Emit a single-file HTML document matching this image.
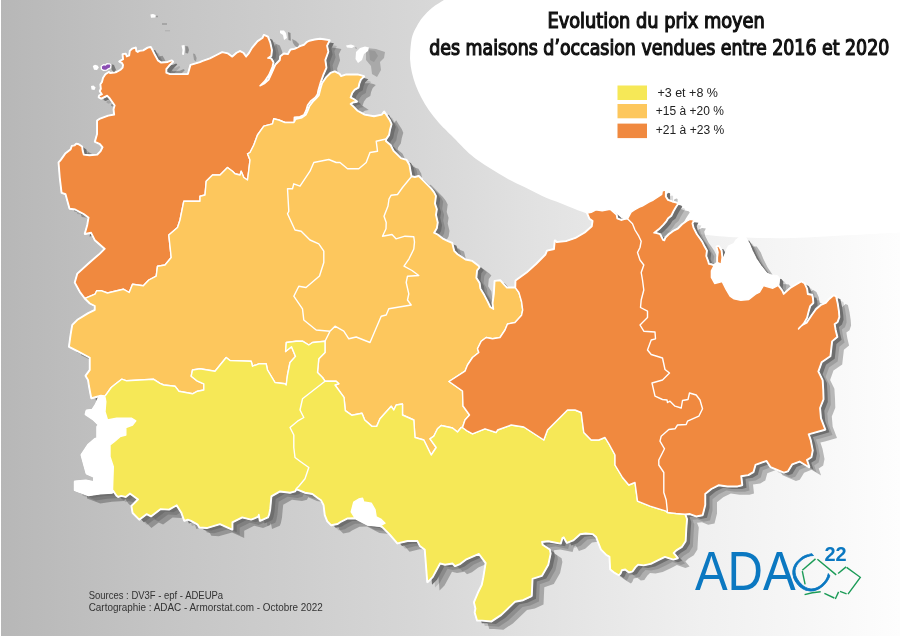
<!DOCTYPE html>
<html><head><meta charset="utf-8"><title>Evolution du prix moyen des maisons d'occasion</title>
<style>
html,body{margin:0;padding:0;width:900px;height:636px;overflow:hidden;background:#fff}
#wrap{position:relative;width:900px;height:636px;overflow:hidden}
svg{position:absolute;left:0;top:0}
.t{position:absolute;white-space:nowrap;font-family:"Liberation Sans",Arial,sans-serif}
</style></head><body><div id="wrap">
<svg width="900" height="636" viewBox="0 0 900 636">
<defs>
<linearGradient id="bg" x1="0" y1="0" x2="1" y2="0">
<stop offset="0" stop-color="#b7b7b7"/><stop offset="0.17" stop-color="#c4c4c4"/><stop offset="0.47" stop-color="#d7d7d7"/><stop offset="0.6" stop-color="#e2e2e2"/><stop offset="0.78" stop-color="#f0f0f0"/><stop offset="1" stop-color="#fdfdfd"/>
</linearGradient>
<g id="sil"><path d="M85.0 298.3 L80.0 291.7 L75.0 282.5 L77.5 273.8 L90.0 262.5 L100.0 253.8 L105.0 248.8 L95.0 240.0 L91.2 232.5 L85.0 233.8 L87.5 225.0 L88.8 217.5 L83.8 213.8 L75.2 209.3 L69.7 208.5 L65.7 194.0 L61.8 192.7 L60.0 177.5 L58.8 162.5 L61.0 160.0 L65.4 153.8 L70.9 149.4 L72.0 146.1 L74.8 145.6 L76.4 143.9 L78.6 144.5 L81.9 146.7 L82.5 151.1 L83.6 154.9 L89.6 155.5 L97.3 154.9 L100.6 151.6 L102.8 147.2 L100.1 143.9 L95.1 141.7 L97.3 134.0 L97.3 120.8 L99.5 119.2 L108.3 115.9 L114.4 114.8 L113.8 109.3 L114.9 105.4 L110.0 98.3 L107.2 95.5 L101.2 98.3 L98.9 97.2 L99.4 95.6 L102.2 94.4 L100.0 91.1 L101.1 88.9 L100.6 84.4 L102.2 82.2 L103.3 77.8 L105.6 74.4 L108.9 72.2 L110.0 73.3 L114.4 72.8 L116.7 72.2 L120.6 70.0 L122.8 67.8 L123.3 65.0 L122.2 62.8 L119.5 61.5 L123.3 59.4 L122.8 54.4 L125.6 53.9 L126.7 56.7 L129.4 55.6 L130.0 51.1 L132.2 48.9 L135.6 47.8 L136.1 51.1 L137.8 52.2 L139.4 51.1 L143.3 50.6 L147.8 47.8 L150.6 47.2 L152.2 50.0 L154.4 54.4 L157.8 60.6 L161.1 62.8 L167.8 62.2 L171.7 60.6 L172.8 61.7 L168.9 65.6 L166.1 68.9 L166.1 72.8 L170.0 74.4 L178.9 74.4 L187.8 74.4 L188.3 73.6 L190.6 65.2 L200.0 62.4 L202.2 61.3 L210.0 58.6 L216.7 55.2 L222.2 52.4 L227.8 53.6 L232.2 56.9 L236.7 53.0 L240.0 51.3 L243.3 53.0 L246.1 56.9 L248.9 53.6 L252.2 48.0 L257.8 41.3 L262.8 38.0 L263.9 35.2 L267.8 36.9 L270.0 42.4 L271.7 50.2 L271.1 55.8 L267.8 58.0 L271.1 58.6 L273.3 62.4 L272.2 66.9 L268.9 74.7 L264.4 81.3 L260.0 85.8 L264.4 83.6 L268.9 79.7 L272.2 72.4 L275.6 64.7 L280.0 60.2 L280.5 56.4 L284.0 53.7 L288.0 54.4 L290.7 49.7 L294.7 49.1 L300.0 46.4 L304.1 45.0 L306.7 42.4 L309.4 41.0 L314.7 39.7 L320.1 39.0 L325.4 39.7 L329.4 40.4 L326.8 45.7 L328.1 51.7 L325.1 60.0 L326.2 67.7 L322.9 75.4 L320.2 83.1 L318.0 90.8 L317.4 94.1 L315.2 97.4 L310.8 100.7 L307.5 105.1 L305.9 110.6 L303.7 115.0 L299.8 116.7 L294.3 117.2 L294.0 122.5 L285.0 122.5 L278.8 120.0 L273.8 118.8 L272.5 123.8 L263.8 126.2 L257.5 135.0 L253.8 145.0 L250.0 152.5 L247.5 153.8 L250.0 160.0 L248.8 170.0 L247.5 180.0 L243.8 177.5 L241.2 171.2 L240.0 175.0 L235.0 173.8 L232.5 171.2 L227.5 167.5 L220.0 175.0 L212.5 175.0 L206.2 181.2 L205.0 195.0 L200.0 196.2 L200.0 201.2 L183.8 201.2 L180.0 220.0 L177.5 227.5 L168.8 235.0 L171.2 257.5 L165.0 265.0 L157.5 266.2 L156.2 276.2 L148.8 280.0 L143.3 285.8 L132.5 284.2 L129.2 292.5 L123.3 289.2 L107.5 293.0 L101.7 290.8 L96.7 290.8 L95.0 294.2 L85.0 298.3Z"/><path d="M85.0 298.3 L90.0 303.3 L95.0 305.8 L95.0 310.0 L88.3 313.3 L77.5 320.0 L72.5 325.0 L70.8 335.0 L69.2 346.7 L77.5 350.8 L90.0 357.5 L90.0 370.0 L85.8 375.8 L88.3 380.0 L89.2 386.0 L90.5 393.0 L91.5 398.0 L97.0 396.5 L101.0 395.5 L105.0 396.2 L111.2 387.5 L115.5 384.0 L121.7 379.2 L126.7 380.8 L153.3 379.2 L160.0 383.3 L163.8 385.0 L175.0 386.2 L178.8 391.2 L192.5 393.8 L197.5 391.2 L203.8 390.0 L203.8 383.8 L197.5 381.2 L191.2 376.2 L192.5 370.0 L200.0 368.8 L215.0 371.2 L226.2 357.5 L230.0 360.5 L251.2 361.2 L252.5 366.2 L258.8 363.8 L266.2 363.8 L267.5 370.0 L275.0 382.5 L285.0 383.8 L286.2 385.0 L287.5 375.0 L290.0 362.5 L295.5 356.4 L291.5 346.8 L285.6 351.5 L286.3 342.5 L296.2 341.2 L302.5 341.2 L308.8 345.0 L312.5 342.5 L325.0 341.2 L325.0 352.5 L318.8 358.8 L317.5 372.5 L322.5 377.5 L325.0 381.2 L336.2 381.2 L338.8 383.8 L335.0 385.0 L344.0 397.3 L345.3 410.7 L352.0 415.3 L362.0 413.3 L364.7 420.0 L372.0 426.4 L376.7 426.4 L380.0 418.7 L391.2 406.2 L393.8 410.0 L396.2 405.0 L402.5 404.0 L402.5 415.0 L413.8 420.0 L415.0 437.5 L423.8 440.0 L431.2 455.0 L436.2 447.5 L430.0 438.8 L433.8 436.2 L437.5 428.8 L441.2 425.5 L452.5 428.0 L457.5 432.0 L461.2 427.5 L462.5 427.5 L465.0 420.0 L469.5 415.0 L463.0 406.0 L462.5 391.0 L449.0 381.5 L465.0 371.2 L467.5 365.0 L472.5 357.5 L478.8 352.5 L477.5 348.8 L481.2 341.2 L486.2 337.5 L492.5 338.8 L500.0 337.5 L505.0 330.0 L507.5 324.0 L515.0 322.5 L521.6 315.2 L522.7 310.0 L521.6 301.8 L518.9 292.5 L515.5 287.8 L512.2 287.8 L506.8 287.8 L504.2 285.1 L500.2 280.5 L494.8 281.1 L494.1 293.8 L492.8 303.2 L493.5 309.2 L490.1 307.2 L487.5 301.8 L484.1 295.2 L480.1 288.5 L479.4 283.1 L476.1 277.8 L476.8 270.4 L479.4 267.1 L477.4 265.1 L472.1 261.1 L465.4 259.7 L457.4 254.4 L454.0 251.0 L452.0 243.0 L447.9 241.3 L442.3 238.5 L437.5 234.7 L433.8 232.8 L436.6 228.1 L437.5 222.5 L435.7 214.9 L436.6 209.2 L434.7 203.6 L435.7 196.0 L433.8 192.3 L430.9 188.5 L426.2 183.8 L422.5 180.0 L418.7 176.2 L414.9 177.2 L411.5 176.5 L411.1 175.5 L410.2 170.6 L409.2 164.9 L406.4 160.2 L400.8 158.3 L397.0 154.5 L393.2 150.8 L390.4 145.1 L385.7 141.3 L386.0 139.0 L388.8 135.0 L389.7 130.0 L391.3 124.3 L389.7 120.4 L386.6 115.7 L384.2 111.8 L381.9 114.9 L374.0 116.5 L364.6 114.9 L357.5 111.0 L353.6 107.0 L350.4 103.9 L352.8 102.3 L356.7 101.5 L353.6 99.2 L350.4 97.6 L352.0 92.9 L354.4 89.7 L358.3 87.4 L359.1 83.5 L360.7 79.5 L363.8 76.4 L361.4 75.6 L358.3 74.8 L345.7 74.8 L341.0 76.4 L339.4 74.0 L334.7 71.7 L330.6 73.2 L326.2 77.6 L322.4 83.1 L320.7 88.6 L319.1 95.2 L316.3 98.5 L313.0 101.8 L309.7 106.2 L307.5 111.7 L305.9 115.0 L302.0 117.8 L295.4 119.4 L294.9 121.0 L294.0 122.5 L285.0 122.5 L278.8 120.0 L273.8 118.8 L272.5 123.8 L263.8 126.2 L257.5 135.0 L253.8 145.0 L250.0 152.5 L247.5 153.8 L250.0 160.0 L248.8 170.0 L247.5 180.0 L243.8 177.5 L241.2 171.2 L240.0 175.0 L235.0 173.8 L232.5 171.2 L227.5 167.5 L220.0 175.0 L212.5 175.0 L206.2 181.2 L205.0 195.0 L200.0 196.2 L200.0 201.2 L183.8 201.2 L180.0 220.0 L177.5 227.5 L168.8 235.0 L171.2 257.5 L165.0 265.0 L157.5 266.2 L156.2 276.2 L148.8 280.0 L143.3 285.8 L132.5 284.2 L129.2 292.5 L123.3 289.2 L107.5 293.0 L101.7 290.8 L96.7 290.8 L95.0 294.2Z"/><path d="M105.0 396.2 L111.2 387.5 L115.5 384.0 L121.7 379.2 L126.7 380.8 L153.3 379.2 L160.0 383.3 L163.8 385.0 L175.0 386.2 L178.8 391.2 L192.5 393.8 L197.5 391.2 L203.8 390.0 L203.8 383.8 L197.5 381.2 L191.2 376.2 L192.5 370.0 L200.0 368.8 L215.0 371.2 L226.2 357.5 L230.0 360.5 L251.2 361.2 L252.5 366.2 L258.8 363.8 L266.2 363.8 L267.5 370.0 L275.0 382.5 L285.0 383.8 L286.2 385.0 L287.5 375.0 L290.0 362.5 L295.5 356.4 L291.5 346.8 L285.6 351.5 L286.3 342.5 L296.2 341.2 L302.5 341.2 L308.8 345.0 L312.5 342.5 L325.0 341.2 L325.0 352.5 L318.8 358.8 L317.5 372.5 L322.5 377.5 L325.0 381.2 L336.2 381.2 L338.8 383.8 L335.0 385.0 L344.0 397.3 L345.3 410.7 L352.0 415.3 L362.0 413.3 L364.7 420.0 L372.0 426.4 L376.7 426.4 L380.0 418.7 L391.2 406.2 L393.8 410.0 L396.2 405.0 L402.5 404.0 L402.5 415.0 L413.8 420.0 L415.0 437.5 L423.8 440.0 L431.2 455.0 L436.2 447.5 L430.0 438.8 L433.8 436.2 L437.5 428.8 L441.2 425.5 L452.5 428.0 L457.5 432.0 L461.2 427.5 L462.5 427.5 L467.5 431.2 L472.5 433.8 L485.0 428.8 L496.2 432.5 L497.5 430.0 L511.2 425.0 L523.8 427.0 L543.8 440.0 L547.5 430.0 L567.5 410.0 L575.0 410.0 L581.2 412.5 L583.8 432.5 L591.2 440.0 L598.8 440.0 L605.0 437.5 L609.0 444.0 L615.0 455.0 L615.0 465.0 L622.5 477.5 L628.8 485.0 L635.0 482.5 L637.5 501.2 L650.0 506.2 L666.2 511.2 L667.5 512.5 L676.0 513.5 L685.0 514.2 L686.8 519.1 L686.1 528.3 L685.4 541.0 L681.8 546.7 L676.2 550.2 L673.4 553.0 L677.6 558.0 L673.4 559.4 L664.9 556.6 L659.2 559.4 L650.7 563.6 L643.6 565.1 L638.0 564.4 L635.2 567.2 L632.3 571.4 L628.8 572.1 L625.3 569.3 L621.7 570.0 L620.3 573.5 L618.9 575.0 L613.9 572.1 L610.4 569.3 L609.7 556.6 L606.2 554.5 L601.2 549.5 L598.4 542.4 L596.3 536.8 L592.7 533.9 L585.7 533.2 L580.0 534.0 L573.2 540.2 L566.9 542.6 L563.8 537.1 L562.2 537.9 L560.6 543.4 L548.1 541.0 L541.8 541.8 L542.5 545.0 L549.6 549.7 L550.4 553.6 L548.1 564.6 L541.8 575.6 L532.3 578.7 L531.5 596.0 L522.9 600.0 L515.0 601.5 L500.9 614.9 L491.4 621.2 L482.0 620.4 L477.3 620.4 L474.9 612.5 L475.7 608.6 L474.2 602.3 L478.1 592.9 L482.0 585.0 L483.6 577.2 L485.9 563.0 L478.9 553.6 L466.3 559.1 L460.0 563.8 L455.0 565.8 L452.5 563.2 L445.0 564.5 L440.0 563.2 L432.5 577.0 L427.5 582.0 L425.0 549.5 L420.0 545.8 L417.5 540.8 L407.5 540.8 L397.5 543.2 L390.0 534.5 L382.5 527.0 L380.0 525.8 L367.5 524.5 L355.0 518.0 L347.5 518.2 L340.0 522.0 L337.5 523.8 L331.2 525.0 L327.5 521.2 L325.0 515.0 L323.8 505.0 L321.2 500.0 L317.5 497.5 L312.5 493.8 L305.0 492.5 L296.2 488.8 L295.0 491.2 L290.0 492.5 L280.0 491.2 L271.2 496.2 L270.6 502.2 L270.0 508.9 L268.9 514.4 L267.8 517.2 L260.0 520.6 L258.9 514.4 L257.8 516.7 L251.1 519.4 L242.2 517.2 L232.2 522.2 L232.2 529.4 L220.0 523.9 L206.7 527.8 L199.4 527.2 L197.8 524.4 L191.1 520.6 L187.8 519.4 L184.4 520.6 L182.2 514.4 L181.7 512.8 L176.7 505.0 L168.9 509.4 L160.6 508.9 L151.1 516.1 L146.7 513.9 L139.4 519.4 L132.8 512.8 L131.7 506.1 L138.3 499.4 L130.0 493.3 L125.6 496.7 L121.1 495.6 L118.3 496.7 L116.7 495.6 L113.3 490.6 L112.0 492.5 L100.0 493.3 L88.3 495.0 L75.0 490.0 L75.0 481.7 L85.8 480.8 L94.2 482.5 L94.2 476.7 L86.7 473.3 L81.7 455.0 L88.3 445.0 L95.0 439.2 L97.5 438.3 L97.5 426.7 L99.2 425.0 L93.3 419.2 L85.8 414.2 L86.7 410.8 L92.5 410.0 L95.8 405.0 L98.3 399.2 L100.0 395.8Z"/><path d="M515.5 287.8 L515.7 280.7 L526.7 272.8 L536.2 264.2 L545.6 254.7 L547.2 250.8 L554.2 249.2 L555.0 240.6 L556.6 242.2 L566.0 241.4 L575.5 238.2 L584.9 232.7 L592.0 226.4 L592.8 220.9 L589.6 218.6 L587.3 213.1 L591.2 212.3 L595.9 209.9 L602.2 210.7 L610.1 209.2 L616.4 214.7 L617.1 218.6 L621.1 220.2 L624.2 219.4 L627.5 218.8 L631.1 212.2 L634.4 210.0 L639.4 207.2 L642.2 206.1 L648.9 202.2 L653.3 200.0 L658.3 196.7 L661.7 194.4 L662.2 191.1 L664.4 190.0 L665.6 190.6 L665.6 196.7 L667.8 200.0 L672.2 201.7 L676.7 202.8 L677.8 203.9 L675.6 207.2 L673.3 211.1 L671.1 215.6 L667.8 218.3 L666.1 221.1 L663.3 224.4 L658.9 228.9 L653.9 232.8 L656.7 233.3 L660.0 234.4 L662.8 240.0 L664.4 240.6 L665.6 237.8 L668.9 234.4 L673.3 231.1 L677.8 228.9 L682.2 224.4 L686.7 221.1 L690.0 219.4 L693.9 220.0 L692.2 223.3 L693.3 227.8 L696.7 234.4 L700.0 238.9 L702.2 242.2 L704.4 246.7 L706.7 250.7 L706.0 256.1 L708.0 261.4 L708.7 264.1 L711.4 264.5 L714.0 265.5 L717.4 262.8 L717.4 257.4 L718.1 252.1 L716.7 246.7 L718.7 246.1 L721.4 250.7 L722.1 257.4 L721.4 262.8 L723.4 260.1 L725.4 254.8 L727.4 249.4 L728.8 246.7 L734.1 244.1 L736.8 240.0 L740.8 238.0 L744.8 238.0 L748.8 244.1 L751.5 250.7 L755.5 258.8 L760.9 266.8 L766.2 273.5 L770.2 275.5 L776.9 276.1 L778.9 278.8 L778.2 285.5 L782.2 290.9 L783.6 294.2 L790.3 288.2 L797.0 284.2 L801.3 281.6 L804.4 283.5 L806.8 288.7 L807.6 294.2 L811.9 295.0 L812.7 298.1 L813.1 302.8 L810.0 306.0 L808.4 311.5 L806.8 317.8 L803.5 323.5 L798.5 329.0 L799.7 327.2 L802.9 324.9 L806.8 322.9 L812.3 314.6 L816.3 309.1 L821.0 305.2 L825.7 303.2 L829.6 298.9 L833.6 295.4 L835.9 296.5 L837.5 303.6 L838.7 311.5 L839.1 317.0 L837.5 321.7 L834.4 324.1 L835.4 330.0 L837.1 336.9 L831.9 341.2 L830.2 356.0 L821.5 362.0 L818.1 371.5 L822.4 380.2 L823.0 390.0 L823.3 399.2 L819.8 407.9 L820.7 418.2 L825.0 429.5 L812.9 432.9 L808.4 434.1 L810.5 440.2 L812.5 450.4 L811.2 457.1 L806.7 459.9 L809.1 467.0 L799.6 461.3 L792.1 464.2 L787.8 471.2 L783.9 472.4 L770.6 466.8 L766.6 460.6 L755.3 464.7 L753.3 471.9 L748.2 474.9 L741.0 476.0 L742.0 485.0 L737.5 486.2 L727.5 486.2 L718.8 485.0 L711.2 488.8 L705.0 493.8 L705.0 505.0 L702.5 515.0 L696.2 516.2 L690.0 513.8 L685.0 514.2 L676.0 513.5 L667.5 512.5 L666.2 511.2 L650.0 506.2 L637.5 501.2 L635.0 482.5 L628.8 485.0 L622.5 477.5 L615.0 465.0 L615.0 455.0 L609.0 444.0 L605.0 437.5 L598.8 440.0 L591.2 440.0 L583.8 432.5 L581.2 412.5 L575.0 410.0 L567.5 410.0 L547.5 430.0 L543.8 440.0 L523.8 427.0 L511.2 425.0 L497.5 430.0 L496.2 432.5 L485.0 428.8 L472.5 433.8 L467.5 431.2 L462.5 427.5 L465.0 420.0 L469.5 415.0 L463.0 406.0 L462.5 391.0 L449.0 381.5 L465.0 371.2 L467.5 365.0 L472.5 357.5 L478.8 352.5 L477.5 348.8 L481.2 341.2 L486.2 337.5 L492.5 338.8 L500.0 337.5 L505.0 330.0 L507.5 324.0 L515.0 322.5 L521.6 315.2 L522.7 310.0 L521.6 301.8 L518.9 292.5Z"/></g>
</defs>
<rect width="900" height="636" fill="url(#bg)"/>
<rect x="0" y="0" width="1" height="636" fill="#fff"/>
<path d="M447.0 -3.0 C446.5 -2.5 446.4 -1.8 443.9 0.0 C441.4 1.8 435.7 4.9 432.2 7.8 C428.7 10.7 425.5 14.0 422.9 17.1 C420.3 20.2 418.4 23.3 416.7 26.4 C414.9 29.5 413.4 32.4 412.4 35.8 C411.4 39.2 411.0 43.0 410.6 47.0 C410.2 51.0 409.9 55.5 410.1 59.8 C410.3 64.1 411.0 68.4 411.9 72.6 C412.8 76.8 414.1 81.0 415.7 85.2 C417.3 89.4 419.2 93.5 421.4 97.7 C423.6 101.9 426.0 106.1 428.9 110.3 C431.8 114.5 435.2 118.7 439.0 122.9 C442.8 127.1 446.1 130.1 451.5 135.5 C456.9 140.9 464.9 149.8 471.1 155.1 C477.3 160.4 483.0 163.8 488.9 167.6 C494.8 171.4 500.8 174.9 506.7 178.2 C512.6 181.4 518.5 184.1 524.4 187.1 C530.3 190.1 536.3 193.3 542.2 196.0 C548.1 198.7 554.1 200.7 560.0 203.1 C565.9 205.5 571.1 207.8 577.8 210.2 C584.5 212.6 591.3 215.1 600.0 217.5 C608.7 219.9 620.0 222.5 630.0 224.5 C640.0 226.5 648.3 227.9 660.0 229.5 C671.7 231.1 686.7 232.9 700.0 234.2 C713.3 235.5 724.5 236.9 740.0 237.5 C755.5 238.1 775.2 238.4 793.0 238.0 C810.8 237.6 829.8 236.2 846.7 235.3 C863.7 234.4 885.3 233.2 894.7 232.7 C904.1 232.2 901.6 232.4 903.0 232.3 L903 -3Z" fill="#fff"/>
<use href="#sil" fill="#000" fill-opacity="0.26" transform="translate(12,8.5)"/>
<use href="#sil" fill="#000" fill-opacity="0.14" transform="translate(7.5,5.5)"/>
<use href="#sil" fill="#6e6e6e" transform="translate(4.5,2.8)"/>
<use href="#sil" fill="#fff" stroke="#fff" stroke-width="2.4" stroke-linejoin="round"/>
<polygon points="156.0,15.8 158.0,15.8 158.0,17.3 156.0,17.3" fill="#9a9a9a"/><polygon points="162.0,23.0 167.0,23.0 167.0,25.0 162.0,25.0" fill="#a6a6a6"/><polygon points="165.0,30.0 170.0,30.0 170.0,31.4 165.0,31.4" fill="#b4b4b4"/><polygon points="185.3,46.0 188.0,46.5 189.0,50.0 188.0,53.6 185.5,53.0" fill="#8c8c8c"/><polygon points="193.0,53.6 195.0,54.0 196.6,58.0 196.0,61.6 194.0,60.0" fill="#9a9a9a"/><polygon points="288.0,32.0 290.5,33.0 290.8,40.8 288.5,40.0" fill="#8c8c8c"/><polygon points="292.0,39.0 296.0,41.0 299.0,44.0 298.0,47.7 295.0,46.0 293.0,43.0" fill="#999999"/><polygon points="366.0,48.0 376.0,49.0 385.0,52.0 384.0,58.0 380.0,62.0 381.0,70.0 377.0,77.0 372.0,74.0 371.0,66.0 366.0,60.0" fill="#a9a9a9"/><polygon points="369.0,50.0 375.0,51.0 378.0,56.0 374.0,62.0 370.0,60.0" fill="#999999"/><polygon points="111.0,64.0 114.0,65.0 116.0,70.0 114.0,72.2 111.7,70.0" fill="#777777"/><polygon points="355.0,47.0 357.0,48.0 356.0,49.0" fill="#999999"/>
<g stroke="#fff" stroke-width="1.4" stroke-linejoin="round">
<polygon points="85.0,298.3 80.0,291.7 75.0,282.5 77.5,273.8 90.0,262.5 100.0,253.8 105.0,248.8 95.0,240.0 91.2,232.5 85.0,233.8 87.5,225.0 88.8,217.5 83.8,213.8 75.2,209.3 69.7,208.5 65.7,194.0 61.8,192.7 60.0,177.5 58.8,162.5 61.0,160.0 65.4,153.8 70.9,149.4 72.0,146.1 74.8,145.6 76.4,143.9 78.6,144.5 81.9,146.7 82.5,151.1 83.6,154.9 89.6,155.5 97.3,154.9 100.6,151.6 102.8,147.2 100.1,143.9 95.1,141.7 97.3,134.0 97.3,120.8 99.5,119.2 108.3,115.9 114.4,114.8 113.8,109.3 114.9,105.4 110.0,98.3 107.2,95.5 101.2,98.3 98.9,97.2 99.4,95.6 102.2,94.4 100.0,91.1 101.1,88.9 100.6,84.4 102.2,82.2 103.3,77.8 105.6,74.4 108.9,72.2 110.0,73.3 114.4,72.8 116.7,72.2 120.6,70.0 122.8,67.8 123.3,65.0 122.2,62.8 119.5,61.5 123.3,59.4 122.8,54.4 125.6,53.9 126.7,56.7 129.4,55.6 130.0,51.1 132.2,48.9 135.6,47.8 136.1,51.1 137.8,52.2 139.4,51.1 143.3,50.6 147.8,47.8 150.6,47.2 152.2,50.0 154.4,54.4 157.8,60.6 161.1,62.8 167.8,62.2 171.7,60.6 172.8,61.7 168.9,65.6 166.1,68.9 166.1,72.8 170.0,74.4 178.9,74.4 187.8,74.4 188.3,73.6 190.6,65.2 200.0,62.4 202.2,61.3 210.0,58.6 216.7,55.2 222.2,52.4 227.8,53.6 232.2,56.9 236.7,53.0 240.0,51.3 243.3,53.0 246.1,56.9 248.9,53.6 252.2,48.0 257.8,41.3 262.8,38.0 263.9,35.2 267.8,36.9 270.0,42.4 271.7,50.2 271.1,55.8 267.8,58.0 271.1,58.6 273.3,62.4 272.2,66.9 268.9,74.7 264.4,81.3 260.0,85.8 264.4,83.6 268.9,79.7 272.2,72.4 275.6,64.7 280.0,60.2 280.5,56.4 284.0,53.7 288.0,54.4 290.7,49.7 294.7,49.1 300.0,46.4 304.1,45.0 306.7,42.4 309.4,41.0 314.7,39.7 320.1,39.0 325.4,39.7 329.4,40.4 326.8,45.7 328.1,51.7 325.1,60.0 326.2,67.7 322.9,75.4 320.2,83.1 318.0,90.8 317.4,94.1 315.2,97.4 310.8,100.7 307.5,105.1 305.9,110.6 303.7,115.0 299.8,116.7 294.3,117.2 294.0,122.5 285.0,122.5 278.8,120.0 273.8,118.8 272.5,123.8 263.8,126.2 257.5,135.0 253.8,145.0 250.0,152.5 247.5,153.8 250.0,160.0 248.8,170.0 247.5,180.0 243.8,177.5 241.2,171.2 240.0,175.0 235.0,173.8 232.5,171.2 227.5,167.5 220.0,175.0 212.5,175.0 206.2,181.2 205.0,195.0 200.0,196.2 200.0,201.2 183.8,201.2 180.0,220.0 177.5,227.5 168.8,235.0 171.2,257.5 165.0,265.0 157.5,266.2 156.2,276.2 148.8,280.0 143.3,285.8 132.5,284.2 129.2,292.5 123.3,289.2 107.5,293.0 101.7,290.8 96.7,290.8 95.0,294.2 85.0,298.3" fill="#f0893f"/>
<polygon points="85.0,298.3 90.0,303.3 95.0,305.8 95.0,310.0 88.3,313.3 77.5,320.0 72.5,325.0 70.8,335.0 69.2,346.7 77.5,350.8 90.0,357.5 90.0,370.0 85.8,375.8 88.3,380.0 89.2,386.0 90.5,393.0 91.5,398.0 97.0,396.5 101.0,395.5 105.0,396.2 111.2,387.5 115.5,384.0 121.7,379.2 126.7,380.8 153.3,379.2 160.0,383.3 163.8,385.0 175.0,386.2 178.8,391.2 192.5,393.8 197.5,391.2 203.8,390.0 203.8,383.8 197.5,381.2 191.2,376.2 192.5,370.0 200.0,368.8 215.0,371.2 226.2,357.5 230.0,360.5 251.2,361.2 252.5,366.2 258.8,363.8 266.2,363.8 267.5,370.0 275.0,382.5 285.0,383.8 286.2,385.0 287.5,375.0 290.0,362.5 295.5,356.4 291.5,346.8 285.6,351.5 286.3,342.5 296.2,341.2 302.5,341.2 308.8,345.0 312.5,342.5 325.0,341.2 325.0,352.5 318.8,358.8 317.5,372.5 322.5,377.5 325.0,381.2 336.2,381.2 338.8,383.8 335.0,385.0 344.0,397.3 345.3,410.7 352.0,415.3 362.0,413.3 364.7,420.0 372.0,426.4 376.7,426.4 380.0,418.7 391.2,406.2 393.8,410.0 396.2,405.0 402.5,404.0 402.5,415.0 413.8,420.0 415.0,437.5 423.8,440.0 431.2,455.0 436.2,447.5 430.0,438.8 433.8,436.2 437.5,428.8 441.2,425.5 452.5,428.0 457.5,432.0 461.2,427.5 462.5,427.5 465.0,420.0 469.5,415.0 463.0,406.0 462.5,391.0 449.0,381.5 465.0,371.2 467.5,365.0 472.5,357.5 478.8,352.5 477.5,348.8 481.2,341.2 486.2,337.5 492.5,338.8 500.0,337.5 505.0,330.0 507.5,324.0 515.0,322.5 521.6,315.2 522.7,310.0 521.6,301.8 518.9,292.5 515.5,287.8 512.2,287.8 506.8,287.8 504.2,285.1 500.2,280.5 494.8,281.1 494.1,293.8 492.8,303.2 493.5,309.2 490.1,307.2 487.5,301.8 484.1,295.2 480.1,288.5 479.4,283.1 476.1,277.8 476.8,270.4 479.4,267.1 477.4,265.1 472.1,261.1 465.4,259.7 457.4,254.4 454.0,251.0 452.0,243.0 447.9,241.3 442.3,238.5 437.5,234.7 433.8,232.8 436.6,228.1 437.5,222.5 435.7,214.9 436.6,209.2 434.7,203.6 435.7,196.0 433.8,192.3 430.9,188.5 426.2,183.8 422.5,180.0 418.7,176.2 414.9,177.2 411.5,176.5 411.1,175.5 410.2,170.6 409.2,164.9 406.4,160.2 400.8,158.3 397.0,154.5 393.2,150.8 390.4,145.1 385.7,141.3 386.0,139.0 388.8,135.0 389.7,130.0 391.3,124.3 389.7,120.4 386.6,115.7 384.2,111.8 381.9,114.9 374.0,116.5 364.6,114.9 357.5,111.0 353.6,107.0 350.4,103.9 352.8,102.3 356.7,101.5 353.6,99.2 350.4,97.6 352.0,92.9 354.4,89.7 358.3,87.4 359.1,83.5 360.7,79.5 363.8,76.4 361.4,75.6 358.3,74.8 345.7,74.8 341.0,76.4 339.4,74.0 334.7,71.7 330.6,73.2 326.2,77.6 322.4,83.1 320.7,88.6 319.1,95.2 316.3,98.5 313.0,101.8 309.7,106.2 307.5,111.7 305.9,115.0 302.0,117.8 295.4,119.4 294.9,121.0 294.0,122.5 285.0,122.5 278.8,120.0 273.8,118.8 272.5,123.8 263.8,126.2 257.5,135.0 253.8,145.0 250.0,152.5 247.5,153.8 250.0,160.0 248.8,170.0 247.5,180.0 243.8,177.5 241.2,171.2 240.0,175.0 235.0,173.8 232.5,171.2 227.5,167.5 220.0,175.0 212.5,175.0 206.2,181.2 205.0,195.0 200.0,196.2 200.0,201.2 183.8,201.2 180.0,220.0 177.5,227.5 168.8,235.0 171.2,257.5 165.0,265.0 157.5,266.2 156.2,276.2 148.8,280.0 143.3,285.8 132.5,284.2 129.2,292.5 123.3,289.2 107.5,293.0 101.7,290.8 96.7,290.8 95.0,294.2" fill="#fdc75d"/>
<polygon points="105.0,396.2 111.2,387.5 115.5,384.0 121.7,379.2 126.7,380.8 153.3,379.2 160.0,383.3 163.8,385.0 175.0,386.2 178.8,391.2 192.5,393.8 197.5,391.2 203.8,390.0 203.8,383.8 197.5,381.2 191.2,376.2 192.5,370.0 200.0,368.8 215.0,371.2 226.2,357.5 230.0,360.5 251.2,361.2 252.5,366.2 258.8,363.8 266.2,363.8 267.5,370.0 275.0,382.5 285.0,383.8 286.2,385.0 287.5,375.0 290.0,362.5 295.5,356.4 291.5,346.8 285.6,351.5 286.3,342.5 296.2,341.2 302.5,341.2 308.8,345.0 312.5,342.5 325.0,341.2 325.0,352.5 318.8,358.8 317.5,372.5 322.5,377.5 325.0,381.2 336.2,381.2 338.8,383.8 335.0,385.0 344.0,397.3 345.3,410.7 352.0,415.3 362.0,413.3 364.7,420.0 372.0,426.4 376.7,426.4 380.0,418.7 391.2,406.2 393.8,410.0 396.2,405.0 402.5,404.0 402.5,415.0 413.8,420.0 415.0,437.5 423.8,440.0 431.2,455.0 436.2,447.5 430.0,438.8 433.8,436.2 437.5,428.8 441.2,425.5 452.5,428.0 457.5,432.0 461.2,427.5 462.5,427.5 467.5,431.2 472.5,433.8 485.0,428.8 496.2,432.5 497.5,430.0 511.2,425.0 523.8,427.0 543.8,440.0 547.5,430.0 567.5,410.0 575.0,410.0 581.2,412.5 583.8,432.5 591.2,440.0 598.8,440.0 605.0,437.5 609.0,444.0 615.0,455.0 615.0,465.0 622.5,477.5 628.8,485.0 635.0,482.5 637.5,501.2 650.0,506.2 666.2,511.2 667.5,512.5 676.0,513.5 685.0,514.2 686.8,519.1 686.1,528.3 685.4,541.0 681.8,546.7 676.2,550.2 673.4,553.0 677.6,558.0 673.4,559.4 664.9,556.6 659.2,559.4 650.7,563.6 643.6,565.1 638.0,564.4 635.2,567.2 632.3,571.4 628.8,572.1 625.3,569.3 621.7,570.0 620.3,573.5 618.9,575.0 613.9,572.1 610.4,569.3 609.7,556.6 606.2,554.5 601.2,549.5 598.4,542.4 596.3,536.8 592.7,533.9 585.7,533.2 580.0,534.0 573.2,540.2 566.9,542.6 563.8,537.1 562.2,537.9 560.6,543.4 548.1,541.0 541.8,541.8 542.5,545.0 549.6,549.7 550.4,553.6 548.1,564.6 541.8,575.6 532.3,578.7 531.5,596.0 522.9,600.0 515.0,601.5 500.9,614.9 491.4,621.2 482.0,620.4 477.3,620.4 474.9,612.5 475.7,608.6 474.2,602.3 478.1,592.9 482.0,585.0 483.6,577.2 485.9,563.0 478.9,553.6 466.3,559.1 460.0,563.8 455.0,565.8 452.5,563.2 445.0,564.5 440.0,563.2 432.5,577.0 427.5,582.0 425.0,549.5 420.0,545.8 417.5,540.8 407.5,540.8 397.5,543.2 390.0,534.5 382.5,527.0 380.0,525.8 367.5,524.5 355.0,518.0 347.5,518.2 340.0,522.0 337.5,523.8 331.2,525.0 327.5,521.2 325.0,515.0 323.8,505.0 321.2,500.0 317.5,497.5 312.5,493.8 305.0,492.5 296.2,488.8 295.0,491.2 290.0,492.5 280.0,491.2 271.2,496.2 270.6,502.2 270.0,508.9 268.9,514.4 267.8,517.2 260.0,520.6 258.9,514.4 257.8,516.7 251.1,519.4 242.2,517.2 232.2,522.2 232.2,529.4 220.0,523.9 206.7,527.8 199.4,527.2 197.8,524.4 191.1,520.6 187.8,519.4 184.4,520.6 182.2,514.4 181.7,512.8 176.7,505.0 168.9,509.4 160.6,508.9 151.1,516.1 146.7,513.9 139.4,519.4 132.8,512.8 131.7,506.1 138.3,499.4 130.0,493.3 125.6,496.7 121.1,495.6 118.3,496.7 116.7,495.6 113.3,490.6 112.0,492.5 100.0,493.3 88.3,495.0 75.0,490.0 75.0,481.7 85.8,480.8 94.2,482.5 94.2,476.7 86.7,473.3 81.7,455.0 88.3,445.0 95.0,439.2 97.5,438.3 97.5,426.7 99.2,425.0 93.3,419.2 85.8,414.2 86.7,410.8 92.5,410.0 95.8,405.0 98.3,399.2 100.0,395.8" fill="#f6e857"/>
<polygon points="515.5,287.8 515.7,280.7 526.7,272.8 536.2,264.2 545.6,254.7 547.2,250.8 554.2,249.2 555.0,240.6 556.6,242.2 566.0,241.4 575.5,238.2 584.9,232.7 592.0,226.4 592.8,220.9 589.6,218.6 587.3,213.1 591.2,212.3 595.9,209.9 602.2,210.7 610.1,209.2 616.4,214.7 617.1,218.6 621.1,220.2 624.2,219.4 627.5,218.8 631.1,212.2 634.4,210.0 639.4,207.2 642.2,206.1 648.9,202.2 653.3,200.0 658.3,196.7 661.7,194.4 662.2,191.1 664.4,190.0 665.6,190.6 665.6,196.7 667.8,200.0 672.2,201.7 676.7,202.8 677.8,203.9 675.6,207.2 673.3,211.1 671.1,215.6 667.8,218.3 666.1,221.1 663.3,224.4 658.9,228.9 653.9,232.8 656.7,233.3 660.0,234.4 662.8,240.0 664.4,240.6 665.6,237.8 668.9,234.4 673.3,231.1 677.8,228.9 682.2,224.4 686.7,221.1 690.0,219.4 693.9,220.0 692.2,223.3 693.3,227.8 696.7,234.4 700.0,238.9 702.2,242.2 704.4,246.7 706.7,250.7 706.0,256.1 708.0,261.4 708.7,264.1 711.4,264.5 714.0,265.5 717.4,262.8 717.4,257.4 718.1,252.1 716.7,246.7 718.7,246.1 721.4,250.7 722.1,257.4 721.4,262.8 723.4,260.1 725.4,254.8 727.4,249.4 728.8,246.7 734.1,244.1 736.8,240.0 740.8,238.0 744.8,238.0 748.8,244.1 751.5,250.7 755.5,258.8 760.9,266.8 766.2,273.5 770.2,275.5 776.9,276.1 778.9,278.8 778.2,285.5 782.2,290.9 783.6,294.2 790.3,288.2 797.0,284.2 801.3,281.6 804.4,283.5 806.8,288.7 807.6,294.2 811.9,295.0 812.7,298.1 813.1,302.8 810.0,306.0 808.4,311.5 806.8,317.8 803.5,323.5 798.5,329.0 799.7,327.2 802.9,324.9 806.8,322.9 812.3,314.6 816.3,309.1 821.0,305.2 825.7,303.2 829.6,298.9 833.6,295.4 835.9,296.5 837.5,303.6 838.7,311.5 839.1,317.0 837.5,321.7 834.4,324.1 835.4,330.0 837.1,336.9 831.9,341.2 830.2,356.0 821.5,362.0 818.1,371.5 822.4,380.2 823.0,390.0 823.3,399.2 819.8,407.9 820.7,418.2 825.0,429.5 812.9,432.9 808.4,434.1 810.5,440.2 812.5,450.4 811.2,457.1 806.7,459.9 809.1,467.0 799.6,461.3 792.1,464.2 787.8,471.2 783.9,472.4 770.6,466.8 766.6,460.6 755.3,464.7 753.3,471.9 748.2,474.9 741.0,476.0 742.0,485.0 737.5,486.2 727.5,486.2 718.8,485.0 711.2,488.8 705.0,493.8 705.0,505.0 702.5,515.0 696.2,516.2 690.0,513.8 685.0,514.2 676.0,513.5 667.5,512.5 666.2,511.2 650.0,506.2 637.5,501.2 635.0,482.5 628.8,485.0 622.5,477.5 615.0,465.0 615.0,455.0 609.0,444.0 605.0,437.5 598.8,440.0 591.2,440.0 583.8,432.5 581.2,412.5 575.0,410.0 567.5,410.0 547.5,430.0 543.8,440.0 523.8,427.0 511.2,425.0 497.5,430.0 496.2,432.5 485.0,428.8 472.5,433.8 467.5,431.2 462.5,427.5 465.0,420.0 469.5,415.0 463.0,406.0 462.5,391.0 449.0,381.5 465.0,371.2 467.5,365.0 472.5,357.5 478.8,352.5 477.5,348.8 481.2,341.2 486.2,337.5 492.5,338.8 500.0,337.5 505.0,330.0 507.5,324.0 515.0,322.5 521.6,315.2 522.7,310.0 521.6,301.8 518.9,292.5" fill="#f0893f"/>
<polygon points="728.8,246.7 734.1,244.1 736.8,240.0 740.8,236.0 744.8,236.0 748.8,244.1 751.5,250.7 755.5,258.8 760.9,266.8 766.2,273.5 770.2,275.5 776.9,276.1 778.9,278.8 778.2,285.5 772.9,288.2 767.5,286.8 763.5,285.5 759.5,292.2 755.5,294.2 748.8,299.5 740.8,300.2 734.1,298.9 730.1,296.2 726.1,289.5 722.1,281.5 714.7,283.5 711.4,277.5 711.4,270.8 714.1,265.5 718.1,262.8 721.4,264.1 723.4,260.1 725.4,254.8 727.4,249.4" fill="#fff"/>
<polygon points="100.0,395.8 105.0,397.5 105.8,401.7 105.0,411.7 107.5,420.0 116.7,418.3 131.7,418.3 135.8,420.8 132.5,425.0 125.8,427.5 125.8,435.0 120.0,436.7 114.2,441.7 110.0,445.0 110.0,456.7 113.3,466.7 112.5,490.0 111.7,492.5 100.0,493.3 88.3,495.0 75.0,490.0 75.0,481.7 85.8,480.8 94.2,482.5 94.2,476.7 86.7,473.3 81.7,455.0 88.3,445.0 95.0,439.2 97.5,438.3 97.5,426.7 99.2,425.0 93.3,419.2 85.8,414.2 86.7,410.8 92.5,410.0 95.8,405.0 98.3,399.2" fill="#fff"/>
<polygon points="351.2,512.0 353.8,502.0 358.8,499.0 362.5,498.2 363.8,502.0 371.2,503.2 375.0,509.5 376.2,517.0 381.2,519.5 385.0,523.2 380.0,525.8 367.5,524.5 355.0,518.0" fill="#fff"/>
</g>
<g fill="none" stroke="#fff" stroke-width="1.4" stroke-linejoin="round">
<polyline points="386.0,139.0 376.2,141.2 377.5,151.2 370.0,152.5 366.2,162.5 358.8,168.8 347.5,168.8 340.0,162.5 336.2,162.5 328.8,159.5 313.8,162.5 310.0,171.2 300.0,186.2 293.8,183.8 292.5,188.8 287.5,188.8 288.8,211.2 287.5,213.8 295.0,230.0 301.2,231.2 310.0,240.0 318.8,243.8 323.8,251.2 323.8,262.5 319.5,276.0 306.0,287.5 298.8,286.2 293.8,296.2 302.5,308.8 303.8,320.0 316.2,330.0 330.0,331.2"/>
<polyline points="330.0,331.2 325.0,341.2"/>
<polyline points="330.0,331.2 335.0,326.2 343.8,331.2 348.8,338.8 356.2,337.0 370.0,342.5 381.2,316.2 386.2,315.0 388.8,308.8 411.2,305.0 407.5,300.0 408.8,293.8 406.2,282.5 407.5,276.2 418.8,275.5 412.0,270.5 404.0,266.2 409.0,258.8 413.8,249.0 414.5,242.0 413.8,236.8 405.0,236.2 396.0,238.8 392.0,234.5 382.5,236.2 386.0,228.8 386.2,222.5 384.0,216.2 388.0,206.0 389.0,199.0 391.2,195.2 397.5,194.5 402.5,187.5 411.5,176.5"/>
<polyline points="325.0,381.2 302.5,398.8 300.0,410.0 303.8,417.5 297.5,421.2 290.0,427.5 293.8,435.0 293.8,447.5 295.0,457.5 300.0,461.2 308.8,467.5 305.0,478.8 298.8,486.2 296.2,488.8"/>
<polyline points="627.5,218.8 632.5,223.8 635.0,230.0 638.8,236.2 641.2,241.2 640.0,247.5 637.5,252.5 640.0,260.0 643.8,265.0 641.2,272.5 642.5,280.0 643.8,290.0 641.2,300.0 640.5,307.5 647.5,311.2 647.5,317.5 640.0,325.0 643.8,331.2 655.0,332.0 655.5,338.8 651.2,340.0 647.5,350.0 651.2,354.5 662.5,358.0 665.0,369.5 669.5,373.0 662.5,380.0 652.0,383.0 655.0,396.2 662.5,399.5 667.0,400.0 667.5,402.5 670.0,401.2 675.0,406.2 681.2,408.0 682.5,400.5 688.0,399.5 689.5,393.0 696.2,395.0 700.0,400.0 702.5,408.8 698.8,416.2 687.5,421.2 686.2,424.5 677.5,425.0 675.0,428.8 668.8,429.5 661.2,436.2 660.0,441.2 664.5,448.8 658.8,460.0 658.8,465.0 663.8,472.5 663.8,483.8 663.8,492.5 666.2,500.0 667.5,512.5"/>
</g>
<g fill="#fff"><polygon points="150.4,14.5 153.0,14.0 155.6,15.0 155.3,17.5 151.0,17.7" /><polygon points="92.8,66.0 95.0,64.8 97.5,65.5 98.9,67.5 97.0,70.0 94.0,69.8" /><polygon points="91.0,86.0 93.5,85.6 95.6,87.5 94.5,90.0 91.5,89.5" /><polygon points="181.5,45.5 184.5,45.0 184.8,49.0 184.0,55.0 182.0,54.5 182.5,50.0" /><polygon points="280.0,30.5 284.0,30.4 286.0,33.0 287.0,38.0 284.0,40.0 283.0,35.0 280.0,33.0" /><polygon points="346.0,45.5 351.0,44.5 355.0,46.0 352.0,48.0 347.0,47.5" /><polygon points="356.0,52.0 360.0,48.0 365.0,46.5 369.0,47.5 368.0,51.0 364.0,54.0 362.0,60.0 358.0,63.0 355.5,59.0" /></g>
<polygon points="101.2,66.2 103.5,64.6 105.5,65 107,63.6 109.5,63.8 111,64.8 110.6,67.8 108,69 106.5,70.2 103.5,70.3 101.5,69.2" fill="#8b4db3" stroke="#fff" stroke-width="1.3"/>
<rect x="617.5" y="85.5" width="29.5" height="14.5" fill="#f6e857"/>
<rect x="617.5" y="104" width="29.5" height="14.3" fill="#fdc75d"/>
<rect x="617.5" y="123.6" width="29.5" height="14.5" fill="#f0893f"/>
<!-- logo -->
<text transform="translate(808.2,574.5) rotate(-39.4) scale(1.15,1)" x="0" y="17.38" text-anchor="middle" font-family="'DejaVu Sans',sans-serif" font-weight="200" font-size="47" fill="#0b78c1" stroke="#0b78c1" stroke-width="0.7">C</text>
<g fill="none" stroke="#1b9b57" stroke-width="1.4">
<path d="M802.3,570.2 L815.5,558.9"/>
<path d="M817.4,559.3 L836.2,574.9"/>
<path d="M838.1,573.5 L846.1,566.9"/>
<path d="M846.6,567.4 L860.3,577.3 L848,594.2"/>
<path d="M846.6,593.8 L840,591.4"/>
<path d="M838.6,591.9 L835.3,599"/>
<path d="M834.3,598 L824.4,593.3"/>
<path d="M820.7,591.7 Q812,592 804.6,594.7"/>
<path d="M802.3,571.1 L805.1,584.3"/>
</g>
<g font-family="'DejaVu Sans Condensed','DejaVu Sans',sans-serif" font-size="21.6" fill="#111" stroke="#111" stroke-width="1.2" lengthAdjust="spacingAndGlyphs">
<text x="547.5" y="28.3" textLength="217.3" lengthAdjust="spacingAndGlyphs">Evolution du prix moyen</text>
<text x="429.3" y="54.7" textLength="460" lengthAdjust="spacingAndGlyphs">des maisons d’occasion vendues entre 2016 et 2020</text>
</g>
<g font-family="'Liberation Sans',Arial,sans-serif" font-size="12.3" fill="#222">
<text x="657.4" y="97.2" textLength="60.6" lengthAdjust="spacingAndGlyphs">+3 et +8 %</text>
<text x="655.8" y="114.7" textLength="68" lengthAdjust="spacingAndGlyphs">+15 à +20 %</text>
<text x="655.8" y="134.2" textLength="68.4" lengthAdjust="spacingAndGlyphs">+21 à +23 %</text>
</g>
<g font-family="'Liberation Sans',Arial,sans-serif" font-size="10.4" fill="#333">
<text x="88.7" y="598.9" textLength="134.4" lengthAdjust="spacingAndGlyphs">Sources : DV3F - epf - ADEUPa</text>
<text x="88.7" y="610.6" textLength="234.1" lengthAdjust="spacingAndGlyphs">Cartographie : ADAC - Armorstat.com - Octobre 2022</text>
</g>
<text x="694.9" y="590" font-family="'Liberation Sans',Arial,sans-serif" font-size="54.6" fill="#0b78c1" textLength="100.8" lengthAdjust="spacingAndGlyphs">ADA</text>
<text x="824.4" y="560.8" font-family="'Liberation Sans',Arial,sans-serif" font-weight="bold" font-size="20.5" fill="#0b78c1" textLength="22.2" lengthAdjust="spacingAndGlyphs">22</text>
</svg>
</div></body></html>
